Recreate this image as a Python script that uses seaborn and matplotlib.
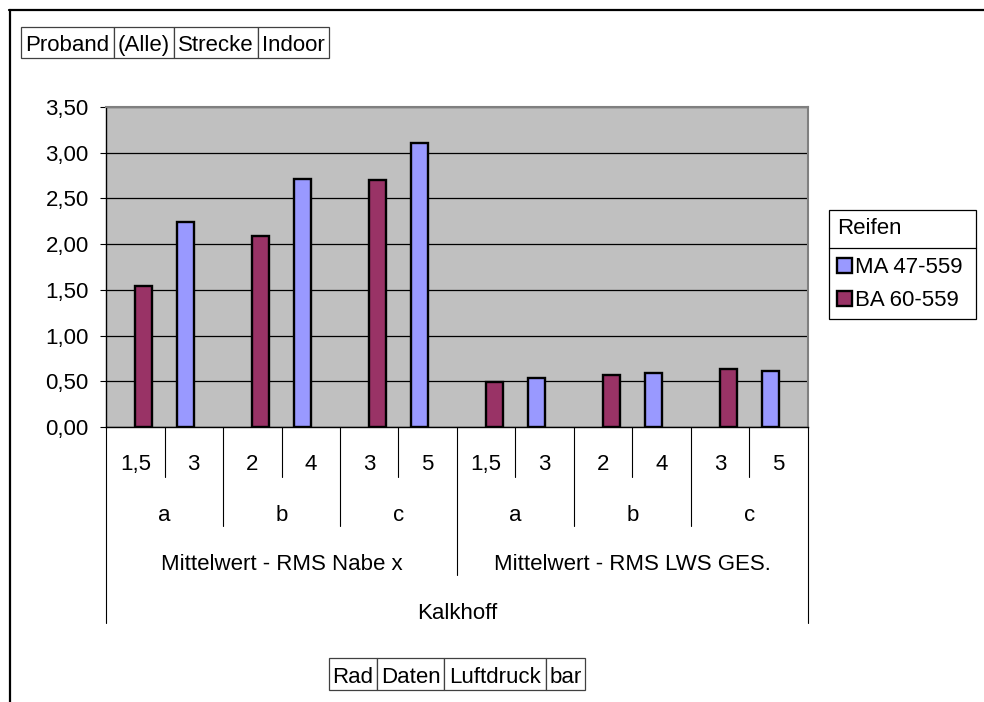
import numpy as np
import pandas as pd
import matplotlib
matplotlib.use("Agg")
import matplotlib.pyplot as plt
import matplotlib.transforms as mtransforms
from matplotlib.patches import Rectangle, Patch
from matplotlib.lines import Line2D
import seaborn as sns

# ---- data -------------------------------------------------------------
measures = ["Mittelwert - RMS Nabe x", "Mittelwert - RMS LWS GES."]
wheels = ["a", "b", "c"]
pressure_labels = ["1,5", "3", "2", "4", "3", "5"]          # per measure, two per wheel
brand = "Kalkhoff"
tyres = ["MA 47-559", "BA 60-559"]
ma_values = [np.nan, 2.24, np.nan, 2.71, np.nan, 3.11,
             np.nan, 0.54, np.nan, 0.595, np.nan, 0.61]
ba_values = [1.54, np.nan, 2.09, np.nan, 2.70, np.nan,
             0.49, np.nan, 0.565, np.nan, 0.63, np.nan]
y_ticks = [0.0, 0.5, 1.0, 1.5, 2.0, 2.5, 3.0, 3.5]
page_fields = ["Proband", "(Alle)", "Strecke", "Indoor"]
row_fields = ["Rad", "Daten", "Luftdruck", "bar"]
tyre_colors = {"MA 47-559": "#9999FF", "BA 60-559": "#993366"}

# ---- long-form table ----------------------------------------------------
cells, cell_measure, cell_wheel, cell_pressure = [], [], [], []
for m in measures:
    for i, p in enumerate(pressure_labels):
        w = wheels[i // 2]
        cells.append(f"{m}|{w}|{p}")
        cell_measure.append(m)
        cell_wheel.append(w)
        cell_pressure.append(p)

df = pd.DataFrame({
    "cell": cells * 2,
    "tyre": [tyres[0]] * len(cells) + [tyres[1]] * len(cells),
    "value": ma_values + ba_values,
})

# ---- figure -----------------------------------------------------------
W, H = 984, 702
sns.set_style("white")
plt.rcParams["font.family"] = ["Liberation Sans", "DejaVu Sans"]
plt.rcParams.update({"text.color": "black", "xtick.color": "black",
                     "ytick.color": "black", "axes.labelcolor": "black"})
FS = 16

fig = plt.figure(figsize=(W / 100, H / 100), dpi=100)
fx = lambda p: p / W
fy = lambda p: 1 - p / H

ax_left, ax_right, ax_top, ax_bottom = 106, 808, 107, 427
ax = fig.add_axes([fx(ax_left), fy(ax_bottom), fx(ax_right - ax_left),
                   (ax_bottom - ax_top) / H])
ax.set_facecolor("#C0C0C0")

sns.barplot(data=df, x="cell", y="value", hue="tyre", order=cells,
            hue_order=tyres, palette=tyre_colors, saturation=1, width=0.58,
            edgecolor="black", linewidth=1.7, errorbar=None,
            legend=False, ax=ax)

ax.set_xlim(-0.5, len(cells) - 0.5)
ax.set_ylim(y_ticks[0], y_ticks[-1])
ax.set_yticks(y_ticks)
ax.set_yticklabels([f"{v:.2f}".replace(".", ",") for v in y_ticks], fontsize=FS)
ax.yaxis.grid(True, color="black", linewidth=0.9)
ax.set_axisbelow(True)
ax.tick_params(axis="y", direction="out", length=4.5, width=0.8, pad=8,
               left=True, colors="black")
ax.tick_params(axis="x", bottom=False, labelbottom=False)
ax.set_xlabel("")
ax.set_ylabel("")
for side in ("top", "right"):
    ax.spines[side].set_color("#808080")
    ax.spines[side].set_linewidth(1.5)
for side in ("left", "bottom"):
    ax.spines[side].set_color("black")
    ax.spines[side].set_linewidth(1.0)

# ---- hierarchical category axis ---------------------------------------
trans = mtransforms.blended_transform_factory(ax.transData, fig.transFigure)
row_bottoms = [477, 526, 575, 623]
n = len(cells)
for b in range(n + 1):
    if b in (0, n):
        depth = 4
    elif b % 6 == 0:
        depth = 3
    elif b % 2 == 0:
        depth = 2
    else:
        depth = 1
    x = b - 0.5
    fig.add_artist(Line2D([x, x], [fy(ax_bottom), fy(row_bottoms[depth - 1])],
                          transform=trans, color="black", linewidth=0.8))

for i, p in enumerate(cell_pressure):
    fig.text(i, fy(470), p, transform=trans, ha="center", va="baseline", fontsize=FS)
for k in range(n // 2):
    fig.text(2 * k + 0.5, fy(521), cell_wheel[2 * k], transform=trans,
             ha="center", va="baseline", fontsize=FS)
for k, m in enumerate(measures):
    fig.text(6 * k + 2.5, fy(570), m, transform=trans, ha="center",
             va="baseline", fontsize=FS)
fig.text((n - 1) / 2, fy(619), brand, transform=trans, ha="center",
         va="baseline", fontsize=FS)

# ---- legend -------------------------------------------------------------
handles = [Patch(facecolor=tyre_colors[t], edgecolor="black", linewidth=1.7)
           for t in tyres]
leg = fig.legend(handles, tyres, title="Reifen", loc="upper left",
                 bbox_to_anchor=(fx(829), fy(318), fx(976 - 829), (318 - 210) / H),
                 bbox_transform=fig.transFigure, mode="expand", borderaxespad=0,
                 frameon=True, fancybox=False, framealpha=1, edgecolor="black",
                 alignment="left", handlelength=0.66, handleheight=0.66,
                 handletextpad=0.12, borderpad=0.38, labelspacing=0.52,
                 fontsize=FS, title_fontsize=FS)
leg.get_frame().set_linewidth(0.9)
# extra room between the title row and the entries
leg._legend_box.sep = 13

fig.canvas.draw()
renderer = fig.canvas.get_renderer()
frame_bb = leg.get_frame().get_window_extent(renderer)
title_bb = leg.get_title().get_window_extent(renderer)
first_bb = leg.get_texts()[0].get_window_extent(renderer)
sep_y = (title_bb.y0 + first_bb.y1) / 2
fig.add_artist(Line2D([frame_bb.x0, frame_bb.x1], [sep_y, sep_y],
                      transform=None, color="black", linewidth=0.9, zorder=10))

# ---- pivot field buttons -----------------------------------------------
def field_buttons(labels, edges, top, bottom, baseline):
    for lab, x0, x1 in zip(labels, edges[:-1], edges[1:]):
        fig.add_artist(Rectangle((fx(x0), fy(bottom)), fx(x1 - x0), (bottom - top) / H,
                                 transform=fig.transFigure, facecolor="white",
                                 edgecolor="#404040", linewidth=0.9))
        fig.text(fx((x0 + x1) / 2), fy(baseline), lab, ha="center",
                 va="baseline", fontsize=FS)

field_buttons(page_fields, [21, 114, 174, 258, 329], 27, 58, 51)
field_buttons(row_fields, [329, 377, 444, 546, 585], 658, 690, 683)

# ---- chart border (top and left edge of the chart area) ----------------
fig.add_artist(Line2D([fx(9), 1.0], [fy(10), fy(10)], transform=fig.transFigure,
                      color="black", linewidth=1.6))
fig.add_artist(Line2D([fx(10), fx(10)], [fy(10), 0.0], transform=fig.transFigure,
                      color="black", linewidth=1.6))

fig.savefig("out.png", dpi=100)
